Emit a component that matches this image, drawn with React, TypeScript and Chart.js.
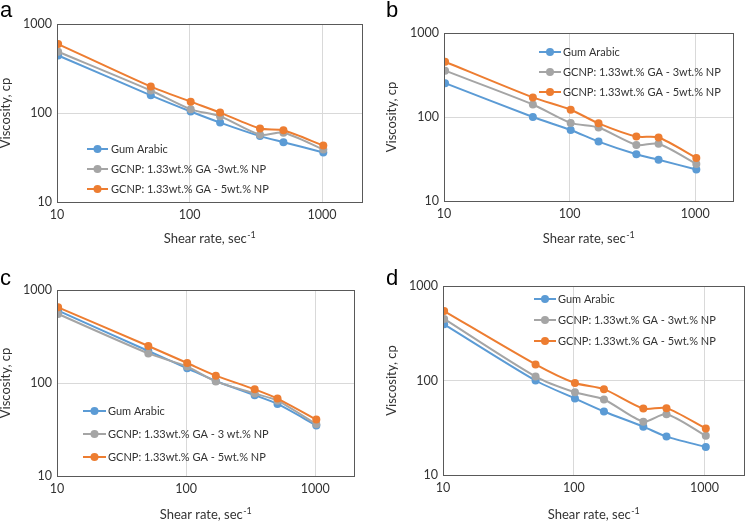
import React, { useEffect, useRef } from "react";
import { Chart, registerables } from "chart.js";

Chart.register(...registerables);

// ---------- data ----------
const shearRate = [10.2, 51, 102, 170, 340, 511, 1021];
const xTickValues = [10, 100, 1000];
const yTickValues = [10, 100, 1000];

const namesA = ["Gum Arabic", "GCNP: 1.33wt.% GA -3wt.% NP", "GCNP: 1.33wt.% GA - 5wt.% NP"];
const namesB = ["Gum Arabic", "GCNP: 1.33wt.% GA - 3wt.% NP", "GCNP: 1.33wt.% GA - 5wt.% NP"];
const namesC = ["Gum Arabic", "GCNP: 1.33wt.% GA - 3 wt.% NP", "GCNP: 1.33wt.% GA - 5wt.% NP"];
const namesD = ["Gum Arabic", "GCNP: 1.33wt.% GA - 3wt.% NP", "GCNP: 1.33wt.% GA - 5wt.% NP"];

const gumA = [443, 158, 104, 78, 55, 47, 36];
const gcnp3A = [488, 179, 110, 92, 57, 60, 39];
const gcnp5A = [595, 198, 134, 101, 67, 64, 43];

const gumB = [253, 100, 70, 51, 36, 31, 23.7];
const gcnp3B = [356, 141, 85, 75, 46.5, 48, 27.6];
const gcnp5B = [455, 171, 122, 84, 58.5, 57, 32.6];

const gumC = [600, 221, 144, 105, 74, 59.5, 35];
const gcnp3C = [552, 208, 150, 104, 77, 64.5, 36];
const gcnp5C = [651, 250, 164, 120, 85.5, 68, 40.4];

const gumD = [393, 100, 64.5, 47, 32.5, 25.5, 19.8];
const gcnp3D = [448, 110, 75, 63, 36.7, 44, 26];
const gcnp5D = [543, 148, 94, 81, 50.4, 51, 31];

const colors = ["#5B9BD5", "#A5A5A5", "#ED7D31"];
const panelLetters = ["a", "b", "c", "d"];
const xTitle = "Shear rate, sec";
const xTitleSup = "-1";
const yTitle = "Viscosity, cp";

const FONT = "Lato, 'Open Sans', sans-serif";
const TEXT = "#333333";

type Panel = {
  letter: string;
  names: string[];
  series: number[][];
  left: number;
  top: number;
  w: number;
  h: number;
  area: { l: number; r: number; t: number; b: number };
  legend: { x0: number; x1: number; tx: number; y0: number; dy: number };
  letterPos: { x: number; y: number };
  yTitleX: number;
  xTitleY: number;
};

const panels: Panel[] = [
  {
    letter: panelLetters[0], names: namesA, series: [gumA, gcnp3A, gcnp5A],
    left: 0, top: 0, w: 374, h: 260,
    area: { l: 57, r: 362, t: 24, b: 202 },
    legend: { x0: 87, x1: 108, tx: 111, y0: 149, dy: 20 },
    letterPos: { x: 0, y: 17 }, yTitleX: 6, xTitleY: 239,
  },
  {
    letter: panelLetters[1], names: namesB, series: [gumB, gcnp3B, gcnp5B],
    left: 374, top: 0, w: 374, h: 260,
    area: { l: 70, r: 359, t: 33, b: 201 },
    legend: { x0: 165, x1: 187, tx: 189, y0: 52, dy: 20 },
    letterPos: { x: 12, y: 17 }, yTitleX: 18, xTitleY: 239,
  },
  {
    letter: panelLetters[2], names: namesC, series: [gumC, gcnp3C, gcnp5C],
    left: 0, top: 260, w: 374, h: 261,
    area: { l: 57, r: 354, t: 30, b: 216 },
    legend: { x0: 83, x1: 106, tx: 108, y0: 151, dy: 23 },
    letterPos: { x: 0, y: 25 }, yTitleX: 6, xTitleY: 255,
  },
  {
    letter: panelLetters[3], names: namesD, series: [gumD, gcnp3D, gcnp5D],
    left: 374, top: 260, w: 374, h: 261,
    area: { l: 69, r: 373, t: 26, b: 215 },
    legend: { x0: 160, x1: 182, tx: 184, y0: 39, dy: 21 },
    letterPos: { x: 12, y: 25 }, yTitleX: 18, xTitleY: 255,
  },
];

function PanelChart({ p }: { p: Panel }) {
  const ref = useRef<HTMLCanvasElement | null>(null);

  useEffect(() => {
    if (!ref.current) return;
    const decor = {
      id: "decor",
      afterDraw(chart: any) {
        const ctx = chart.ctx;
        const ca = chart.chartArea;
        ctx.save();
        // frame
        ctx.strokeStyle = "#595959";
        ctx.lineWidth = 1;
        ctx.strokeRect(Math.round(ca.left) + 0.5, Math.round(ca.top) + 0.5, Math.round(ca.right - ca.left), Math.round(ca.bottom - ca.top));
        // legend
        p.names.forEach((name, i) => {
          const y = p.legend.y0 + i * p.legend.dy;
          ctx.strokeStyle = colors[i];
          ctx.lineWidth = 2;
          ctx.beginPath();
          ctx.moveTo(p.legend.x0, y);
          ctx.lineTo(p.legend.x1, y);
          ctx.stroke();
          ctx.fillStyle = colors[i];
          ctx.beginPath();
          ctx.arc((p.legend.x0 + p.legend.x1) / 2, y, 4, 0, Math.PI * 2);
          ctx.fill();
          ctx.fillStyle = TEXT;
          ctx.font = `11px ${FONT}`;
          ctx.textBaseline = "middle";
          ctx.textAlign = "left";
          ctx.fillText(name, p.legend.tx, y + 0.5);
        });
        // panel letter
        ctx.fillStyle = "#000";
        ctx.font = "22px 'Liberation Sans', Arial, sans-serif";
        ctx.textBaseline = "alphabetic";
        ctx.textAlign = "left";
        ctx.fillText(p.letter, p.letterPos.x, p.letterPos.y);
        // y title
        ctx.fillStyle = TEXT;
        ctx.font = `13px ${FONT}`;
        ctx.save();
        ctx.translate(p.yTitleX, (ca.top + ca.bottom) / 2);
        ctx.rotate(-Math.PI / 2);
        ctx.textAlign = "center";
        ctx.textBaseline = "middle";
        ctx.fillText(yTitle, 0, 0);
        ctx.restore();
        // x title with superscript
        ctx.font = `13px ${FONT}`;
        const wMain = ctx.measureText(xTitle).width;
        ctx.font = `9px ${FONT}`;
        const wSup = ctx.measureText(xTitleSup).width;
        const startX = (ca.left + ca.right) / 2 - (wMain + wSup) / 2;
        ctx.textAlign = "left";
        ctx.textBaseline = "middle";
        ctx.font = `13px ${FONT}`;
        ctx.fillText(xTitle, startX, p.xTitleY);
        ctx.font = `9px ${FONT}`;
        ctx.fillText(xTitleSup, startX + wMain + 0.5, p.xTitleY - 4);
        ctx.restore();
      },
    };

    const chart = new Chart(ref.current, {
      type: "line",
      data: {
        datasets: p.series.map((s, i) => ({
          label: p.names[i],
          data: shearRate.map((x, j) => ({ x, y: s[j] })),
          borderColor: colors[i],
          backgroundColor: colors[i],
          borderWidth: 2,
          pointRadius: 4,
          pointBorderWidth: 0,
          pointBackgroundColor: colors[i],
          tension: 0.25,
          fill: false,
          order: 2 - i,
        })),
      },
      options: {
        responsive: false,
        animation: false,
        devicePixelRatio: 1,
        layout: { padding: { top: p.area.t, right: p.w - p.area.r, left: 0, bottom: 0 } },
        plugins: { legend: { display: false }, tooltip: { enabled: false } },
        scales: {
          x: {
            type: "logarithmic",
            min: 10,
            max: 2000,
            afterBuildTicks: (s: any) => { s.ticks = xTickValues.map((v) => ({ value: v })); },
            afterFit: (s: any) => { s.height = p.h - p.area.b; },
            grid: { color: "#D9D9D9", drawTicks: false, lineWidth: 1 },
            border: { display: false },
            ticks: { padding: 5, color: TEXT, font: { family: FONT, size: 12.5 }, maxRotation: 0, autoSkip: false, callback: (v: any) => String(v) },
          },
          y: {
            type: "logarithmic",
            min: 10,
            max: 1000,
            afterBuildTicks: (s: any) => { s.ticks = yTickValues.map((v) => ({ value: v })); },
            afterFit: (s: any) => { s.width = p.area.l; },
            grid: { color: "#D9D9D9", drawTicks: false, lineWidth: 1 },
            border: { display: false },
            ticks: { padding: 5, color: TEXT, font: { family: FONT, size: 12.5 }, autoSkip: false, callback: (v: any) => String(v) },
          },
        },
      } as any,
      plugins: [decor],
    });
    return () => chart.destroy();
  }, [p]);

  return (
    <canvas
      ref={ref}
      width={p.w}
      height={p.h}
      style={{ position: "absolute", left: p.left, top: p.top, width: p.w, height: p.h }}
    />
  );
}

export default function App() {
  return (
    <div style={{ position: "absolute", left: 0, top: 0, width: 748, height: 521, background: "#fff", overflow: "hidden" }}>
      {panels.map((p) => (
        <PanelChart key={p.letter} p={p} />
      ))}
    </div>
  );
}
